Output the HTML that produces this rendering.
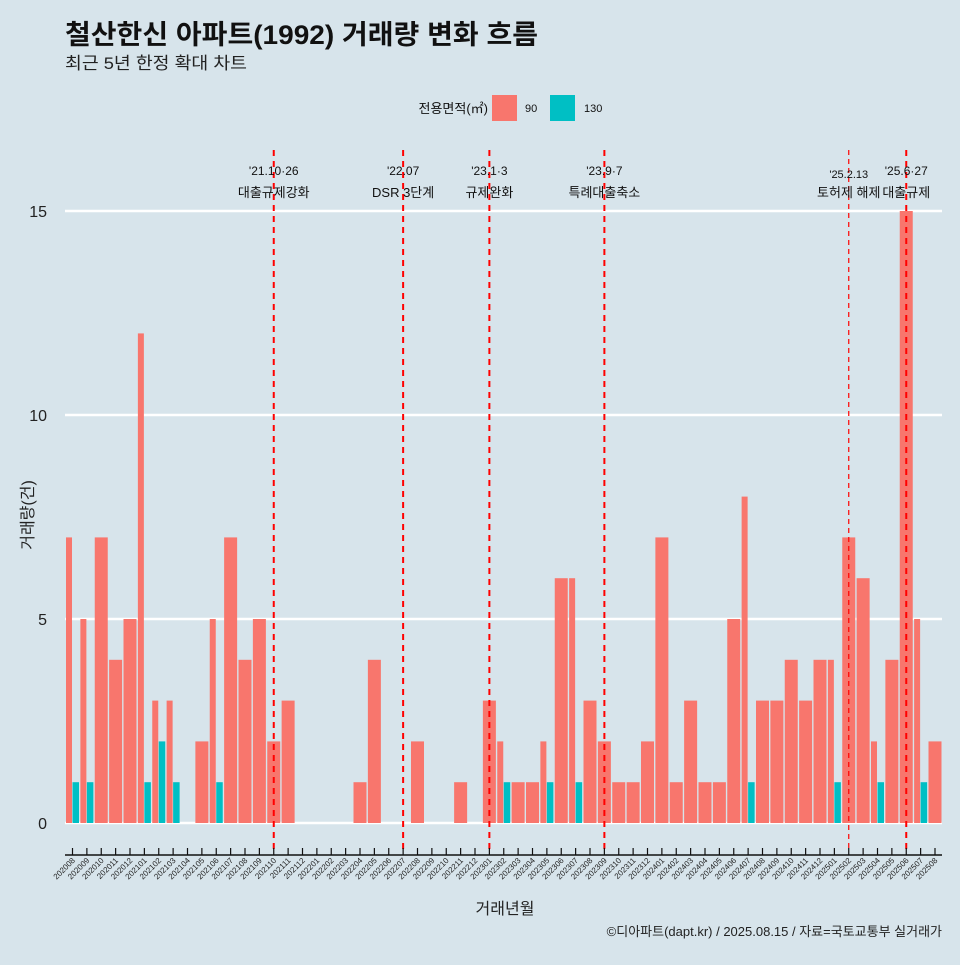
<!DOCTYPE html>
<html><head><meta charset="utf-8">
<style>
body{margin:0;background:#d7e4eb;}
svg text{font-family:"Liberation Sans","Noto Sans CJK KR",sans-serif;}
</style></head>
<body>
<svg id="chart" width="960" height="960" xmlns="http://www.w3.org/2000/svg">
<rect width="960" height="960" fill="#d7e4eb"/>
<text x="65" y="44" font-size="27" font-weight="bold" fill="#111" textLength="473" lengthAdjust="spacingAndGlyphs">철산한신 아파트(1992) 거래량 변화 흐름</text>
<text x="65" y="69" font-size="17" fill="#222" textLength="182" lengthAdjust="spacingAndGlyphs">최근 5년 한정 확대 차트</text>
<g>
<text x="488" y="113" font-size="13" text-anchor="end" fill="#111">전용면적(㎡)</text>
<rect x="492" y="95" width="25" height="26" fill="#F8766D"/>
<text x="525" y="112" font-size="11" fill="#111">90</text>
<rect x="550" y="95" width="25" height="26" fill="#00BFC4"/>
<text x="584" y="112" font-size="11" fill="#111">130</text>
</g>
<g id="grid"></g><g id="bars"></g><g id="events"></g><g id="axes"></g>
<text transform="translate(33,515) rotate(-90)" font-size="16" text-anchor="middle" fill="#222">거래량(건)</text>
<text x="505" y="914" font-size="16" text-anchor="middle" fill="#222">거래년월</text>
<text x="942" y="936" font-size="13" text-anchor="end" fill="#222">©디아파트(dapt.kr) / 2025.08.15 / 자료=국토교통부 실거래가</text>
</svg>
<script>
const months=[];
for(let y=2020;y<=2025;y++)for(let m=1;m<=12;m++){const k=y*100+m;if(k>=202008&&k<=202508)months.push(String(k));}
const vals90=[7,5,7,4,5,12,3,3,0,2,5,7,4,5,2,3,0,0,0,0,1,4,0,0,2,0,0,1,0,3,2,1,1,2,6,6,3,2,1,1,2,7,1,3,1,1,5,8,3,3,4,3,4,4,7,6,2,4,15,5,2];
const vals130=[1,1,0,0,0,1,2,1,0,0,1,0,0,0,0,0,0,0,0,0,0,0,0,0,0,0,0,0,0,0,1,0,0,1,0,1,0,0,0,0,0,0,0,0,0,0,0,1,0,0,0,0,0,1,0,0,1,0,0,1,0];
const yTicks=[0,5,10,15];
const eventMonths=["202110","202207","202301","202309","202502","202506"];
const eventDates=["'21.10·26","'22.07","'23.1·3","'23.9·7","'25.2.13","'25.6·27"];
const eventNames=["대출규제강화","DSR 3단계","규제완화","특례대출축소","토허제 해제","대출규제"];

const NS="http://www.w3.org/2000/svg";
const x0=72.5,step=14.375,y0=823,yScale=40.8;
const X=i=>x0+i*step, Y=v=>y0-v*yScale;
function el(tag,attrs,parent){const e=document.createElementNS(NS,tag);for(const k in attrs)e.setAttribute(k,attrs[k]);parent.appendChild(e);return e;}
const grid=document.getElementById('grid'),bars=document.getElementById('bars'),ev=document.getElementById('events'),ax=document.getElementById('axes');
yTicks.forEach(t=>{
 const l=el('line',{x1:65,x2:942,y1:Y(t),y2:Y(t),stroke:'#fff','stroke-width':2.5},grid);
 
 
 const tx=el('text',{x:47,y:Y(t)+6,'font-size':16,'text-anchor':'end',fill:'#222'},ax);
 tx.textContent=t;
 
 
});
const bw=13;
months.forEach((m,i)=>{
 const a=vals90[i],b=vals130[i],cx=X(i);
 if(a>0&&b>0){
  const r1=el('rect',{x:cx-bw/2,y:Y(a),width:bw/2-0.5,height:a*yScale,fill:'#F8766D'},bars);
  
  
  const r2=el('rect',{x:cx,y:Y(b),width:bw/2,height:b*yScale,fill:'#00BFC4'},bars);
  
  
 }else if(a>0){
  const r=el('rect',{x:cx-bw/2,y:Y(a),width:bw,height:a*yScale,fill:'#F8766D'},bars);
  
  
 }else if(b>0){
  const r=el('rect',{x:cx-bw/2,y:Y(b),width:bw,height:b*yScale,fill:'#00BFC4'},bars);
  
  
 }
 const tk=el('line',{x1:cx,x2:cx,y1:848,y2:855,stroke:'#111','stroke-width':1.2},ax);
 
 
 const lb=el('text',{transform:`translate(${cx+3},${861}) rotate(-45)`,'font-size':8,'text-anchor':'end',fill:'#222'},ax);
 lb.textContent=m;
 
 
});
const axl=el('line',{x1:65,x2:942,y1:855,y2:855,stroke:'#111','stroke-width':1.5},ax);


eventMonths.forEach((m,k)=>{
 const i=months.indexOf(m),cx=X(i),thin=(m==="202502");
 const l=el('line',{x1:cx,x2:cx,y1:150,y2:852,stroke:'#f00','stroke-width':thin?1.2:2,'stroke-dasharray':thin?'5,4':'6,5'},ev);
 
 
 const fs=thin?11:12;
 const d=el('text',{x:cx,y:thin?178:175,'font-size':fs,'text-anchor':'middle',fill:'#111'},ev);
 d.textContent=eventDates[k];
 
 
 const n=el('text',{x:cx,y:197,'font-size':13,'text-anchor':'middle',fill:'#111'},ev);
 n.textContent=eventNames[k];
 
 
});
</script>
</body></html>
